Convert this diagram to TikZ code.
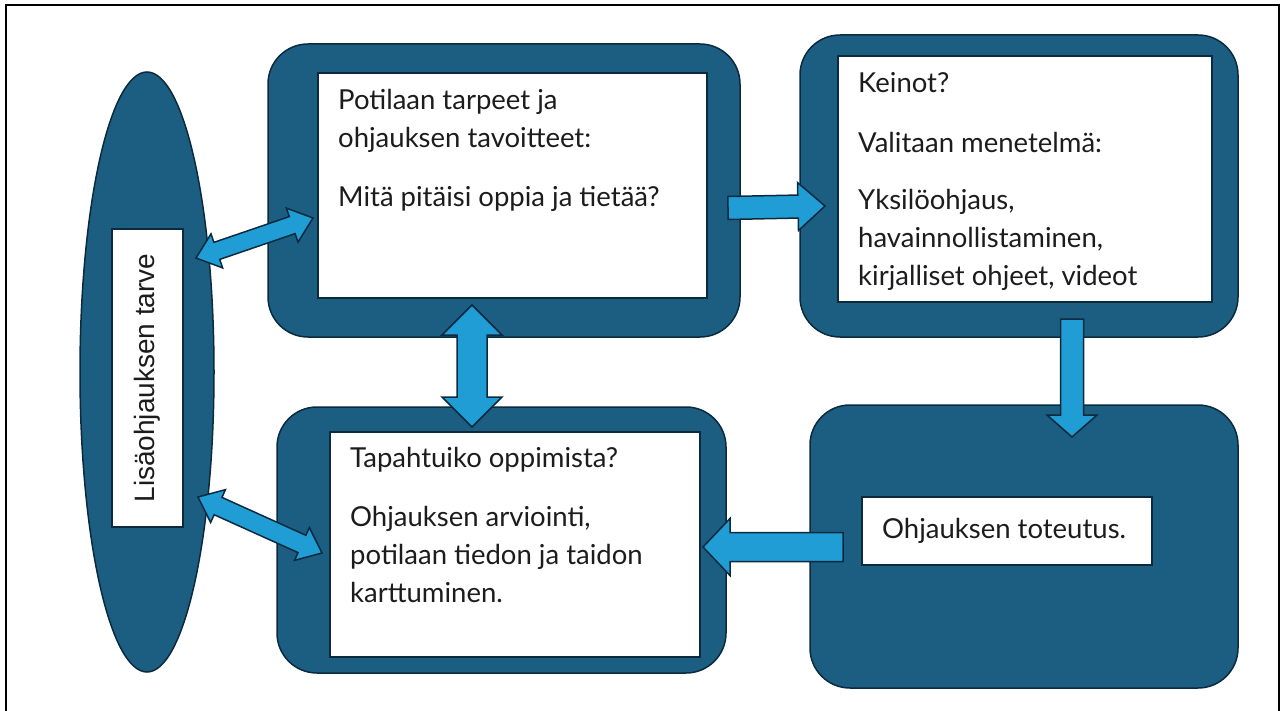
\documentclass[tikz,border=0pt]{standalone}
\usepackage{fontspec}
\setmainfont{Lato}
\newfontfamily\labelfont{Liberation Sans}
\definecolor{boxblue}{RGB}{27, 94, 130}
\definecolor{arrowblue}{RGB}{33, 157, 214}
\definecolor{edgeblue}{RGB}{12, 42, 62}
\definecolor{textgray}{RGB}{28, 28, 28}
\usetikzlibrary{shapes.geometric, positioning, calc}
\tikzset{
    outerbox/.style={
        rectangle,
        draw=edgeblue,
        line width=1.5pt,
        fill=boxblue,
        rounded corners=40pt,
        inner sep=0pt,
        outer sep=0pt
    },
    whitebox/.style={
        rectangle,
        draw=edgeblue,
        line width=1.5pt,
        fill=white,
        inner sep=0pt,
        outer sep=0pt
    },
    boxtext/.style={
        align=left,
        inner sep=0pt,
        text=textgray,
        font=\fontsize{27.5}{38}\selectfont
    },
    blockarrow/.style={draw=edgeblue, line width=1.5pt, fill=arrowblue, line join=miter}
}
% block arrow: start, end, shaft half width, head half width, head length
\newcommand{\blockarr}[5]{%
    \coordinate (hB) at ($(#2)!#5!(#1)$);
    \draw[blockarrow] ($(#1)!#3!90:(#2)$) -- ($(hB)!#3!-90:(#1)$) -- ($(hB)!#4!-90:(#1)$)
        -- (#2) -- ($(hB)!#4!90:(#1)$) -- ($(hB)!#3!90:(#1)$) -- ($(#1)!#3!-90:(#2)$) -- cycle;
}
\newcommand{\blockdarr}[5]{%
    \coordinate (hA) at ($(#1)!#5!(#2)$);
    \coordinate (hB) at ($(#2)!#5!(#1)$);
    \draw[blockarrow] (#1) -- ($(hA)!#4!90:(#2)$) -- ($(hA)!#3!90:(#2)$) -- ($(hB)!#3!-90:(#1)$)
        -- ($(hB)!#4!-90:(#1)$) -- (#2) -- ($(hB)!#4!90:(#1)$) -- ($(hB)!#3!90:(#1)$)
        -- ($(hA)!#3!-90:(#2)$) -- ($(hA)!#4!-90:(#2)$) -- cycle;
}

\begin{document}
\begin{tikzpicture}[x=1pt, y=-1pt]
    \useasboundingbox (0,0) rectangle (1282,711);
    \draw[line width=2.8pt] (6,711) -- (6,5) -- (1279,5) -- (1279,711);

    % left ellipse
    \node[ellipse, draw=edgeblue, line width=1.5pt, fill=boxblue, minimum width=134, minimum height=600, inner sep=0pt] (lisa) at (147,372) {};
    \node[whitebox, minimum width=71, minimum height=298] (lisabox) at (147.5,378) {};
    \node[rotate=90, inner sep=0pt, text=textgray, font=\labelfont\fontsize{28}{34}\selectfont] (lisatxt) at (lisabox) {Lisäohjauksen tarve};

    % boxes
    \node[outerbox, minimum width=472, minimum height=293] (need) at (504,190.5) {};
    \node[whitebox, minimum width=389, minimum height=225] (needw) at (512.5,185.5) {};
    \node[outerbox, minimum width=438, minimum height=302] (means) at (1019,186) {};
    \node[whitebox, minimum width=374, minimum height=246] (meansw) at (1025,179) {};
    \node[outerbox, minimum width=449, minimum height=266] (eval) at (501.5,540) {};
    \node[whitebox, minimum width=370, minimum height=225] (evalw) at (515,544.5) {};
    \node[outerbox, minimum width=428, minimum height=283] (impl) at (1024,546.5) {};
    \node[whitebox, minimum width=290, minimum height=68] (implw) at (1007,531) {};

    % texts
    \node[boxtext, below right=16pt and 20pt of needw.north west] (needtxt) {Potilaan tarpeet ja\\ohjauksen tavoitteet:\\[21pt]Mitä pitäisi oppia ja tietää?};
    \node[boxtext, below right=16pt and 20pt of meansw.north west] (meanstxt) {Keinot?\\[22pt]Valitaan menetelmä:\\[19pt]Yksilöohjaus,\\havainnollistaminen,\\kirjalliset ohjeet, videot};
    \node[boxtext, below right=15pt and 20pt of evalw.north west] (evaltxt) {Tapahtuiko oppimista?\\[21pt]Ohjauksen arviointi,\\potilaan tiedon ja taidon\\karttuminen.};
    \node[boxtext, right=20pt of implw.west] (impltxt) {Ohjauksen toteutus.};

    % arrow ends
    \coordinate (lisaTop) at (196,258);
    \coordinate (needL) at (313,218);
    \coordinate (needR) at (728,208);
    \coordinate (meansL) at (825,206);
    \coordinate (needB) at (472,305);
    \coordinate (evalT) at (472,427);
    \coordinate (meansB) at (1072,319);
    \coordinate (implT) at (1072,437);
    \coordinate (implL) at (843,547);
    \coordinate (evalR) at (703,547);
    \coordinate (lisaBot) at (198,497);
    \coordinate (evalL) at (322,553);

    \blockdarr{lisaTop}{needL}{9pt}{18pt}{22pt}
    \blockarr{needR}{meansL}{11.5pt}{24pt}{27pt}
    \blockdarr{needB}{evalT}{15pt}{30pt}{30pt}
    \blockarr{meansB}{implT}{11.5pt}{25pt}{22pt}
    \blockarr{implL}{evalR}{14.5pt}{28.5pt}{27pt}
    \blockdarr{lisaBot}{evalL}{9.5pt}{18pt}{22pt}
\end{tikzpicture}
\end{document}
